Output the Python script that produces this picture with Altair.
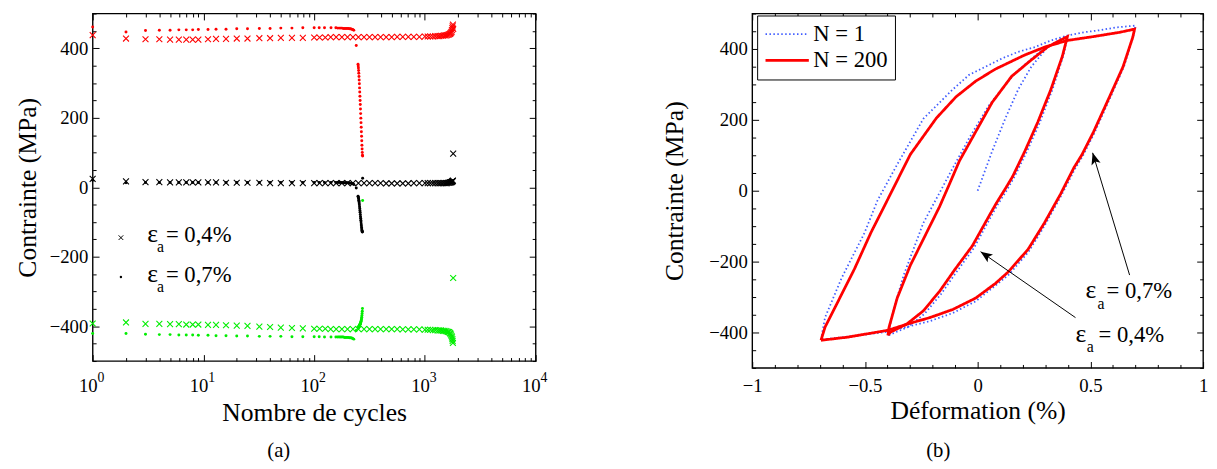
import math
import altair as alt
import pandas as pd

FONT = "Liberation Serif"
GREEN = "#00ee00"
CROSS = "M-1,-1L1,1M-1,1L1,-1"
ARROW = "M0,0L-0.4,1L0,0.78L0.4,1Z"

# ---------------- panel (a) : stress vs number of cycles ----------------
N_04 = [1, 2, 3, 4, 5, 6, 7, 8, 9, 11, 13, 16, 20, 25, 32, 40, 50, 63, 79, 100,
        112, 126, 141, 158, 178, 200, 224, 251, 282, 316, 355, 398, 447, 501, 562, 631, 708, 794, 891, 1000,
        1060, 1120, 1180, 1240, 1300, 1350, 1400, 1450, 1500, 1540, 1580, 1620, 1650, 1680, 1700, 1720,
        1740, 1755, 1770, 1780, 1790, 1800]
MAX_04 = [438, 428, 426, 426, 425, 425, 425, 425, 425, 426, 427, 427, 428, 428, 429, 429, 430, 430, 430, 431,
          431, 431, 432, 432, 432, 432, 432, 432, 432, 432, 432, 432, 432, 432, 433, 433, 433, 433, 433, 434,
          434, 434, 434, 435, 435, 435, 436, 436, 437, 437, 438, 439, 440, 441, 443, 445,
          447, 452, 458, 463, 468, 456]
MEAN_04 = [24, 17, 15, 15, 14, 14, 14, 14, 14, 14, 14, 13, 13, 13, 13, 12, 12, 12, 12, 12,
           12, 12, 12, 12, 12, 12, 12, 12, 12, 12, 12, 12, 11, 11, 11, 11, 11, 12, 12, 12,
           12, 12, 12, 12, 12, 12, 12, 12, 12, 12, 12, 13, 13, 14, 14, 15,
           15, 16, 17, 18, 19, 97]
MIN_04 = [-392, -389, -393, -393, -394, -394, -395, -395, -395, -396, -396, -397, -398, -399, -401, -402, -404, -405, -406, -407,
          -407, -407, -408, -408, -408, -408, -408, -408, -408, -408, -408, -408, -408, -408, -408, -409, -409, -409, -409, -410,
          -410, -410, -411, -411, -412, -412, -412, -413, -413, -414, -415, -416, -417, -419, -421, -424,
          -428, -432, -437, -442, -448, -261]

N_07 = [1, 2, 3, 4, 5, 6, 7, 8, 9, 11, 13, 16, 20, 25, 32, 40, 50, 63, 79, 100, 111, 124, 142, 157,
        163, 168, 173, 178, 183, 188, 193, 198, 203, 208, 213, 218, 223, 228,
        240,
        249, 250, 251, 252, 253, 254, 255, 256, 257, 258, 259, 260, 261, 262, 263, 264, 265, 266,
        267, 268, 269, 270, 271, 272, 273, 274]
MAX_07 = [461, 447, 451, 452, 452, 453, 453, 453, 454, 454, 455, 455, 456, 456, 457, 457, 458, 458, 459, 459, 459, 459, 459, 459,
          458, 458, 458, 458, 457, 457, 457, 457, 457, 456, 456, 455, 454, 452,
          408,
          354, 349, 343, 336, 328, 319, 309, 298, 286, 274, 262, 250, 238, 225, 212, 199, 186, 173,
          160, 147, 134, 121, 110, 100, 92, 90]
MEAN_07 = [20, 13, 14, 14, 14, 14, 14, 14, 14, 14, 14, 14, 14, 14, 14, 14, 14, 14, 14, 14, 14, 14, 14, 14,
           14, 14, 14, 14, 13, 13, 13, 13, 13, 12, 12, 11, 10, 8,
           -2,
           -26, -28, -30, -33, -37, -41, -45, -50, -56, -61, -67, -72, -78, -84, -89, -95, -100, -106,
           -111, -116, -120, -124, -127, -129, -128, 26]
MIN_07 = [-421, -421, -423, -424, -424, -425, -425, -425, -426, -426, -427, -427, -428, -428, -429, -429, -429, -430, -430, -430, -430, -431, -431, -431,
          -431, -431, -431, -431, -431, -432, -432, -432, -432, -433, -433, -434, -435, -437,
          -412,
          -405, -404, -403, -402, -401, -400, -399, -398, -397, -396, -395, -394, -393, -392, -390, -388, -386, -384,
          -381, -378, -374, -369, -363, -357, -349, -38]

XA_MAJOR = [1, 10, 100, 1000, 10000]
XA_TICKS = [1, 2, 3, 4, 5, 6, 7, 8, 9, 10, 20, 30, 40, 50, 60, 70, 80, 90, 100, 200, 300, 400, 500, 600,
            700, 800, 900, 1000, 2000, 3000, 4000, 5000, 6000, 7000, 8000, 9000, 10000]
Y_MAJOR = [-400, -200, 0, 200, 400]
Y_TICKS = [-500, -450, -400, -350, -300, -250, -200, -150, -100, -50, 0, 50, 100, 150, 200, 250, 300, 350, 400, 450, 500]

# legend of panel (a)
LEGA_MARK_N = [1.8]
LEGA_MARK_S1 = [-145]
LEGA_MARK_S2 = [-258]
LEGA_EPS_N = [3.11]
LEGA_SUB_N = [3.81]
LEGA_TXT_N = [4.59]
LEGA_ROW_S = [-158, -272]
LEGA_SUB_S = [-186, -300]
LEGA_TXT = ["= 0,4%", "= 0,7%"]

# ---------------- panel (b) : hysteresis loops ----------------
E07_200 = [-0.695, -0.677, -0.619, -0.546, -0.474, -0.408, -0.299, -0.183, -0.096, -0.009, 0.078, 0.209, 0.296,
           0.398, 0.514, 0.63, 0.696,
           0.688, 0.645, 0.587, 0.514, 0.463, 0.427, 0.369, 0.296, 0.224, 0.136, 0.078, -0.009, -0.11,
           -0.212, -0.3, -0.4, -0.575, -0.695]
S07_200 = [-422, -385, -312, -220, -119, -36, 102, 205, 265, 309, 343, 383, 405,
           424, 435, 447, 456,
           433, 350, 268, 166, 102, 65, -8, -91, -165, -229, -262, -303, -335,
           -358, -374, -394, -413, -422]
E04_200 = [-0.398, -0.393, -0.357, -0.299, -0.227, -0.169, -0.125, -0.081, -0.009, 0.064, 0.151, 0.238, 0.311, 0.398,
           0.376, 0.325, 0.267, 0.209, 0.155, 0.125, 0.082, 0.049, -0.023, -0.103, -0.169, -0.241, -0.314,
           -0.387, -0.398]
S04_200 = [-408, -385, -303, -211, -119, -45, 19, 84, 166, 249, 323, 369, 406, 435,
           380, 286, 194, 111, 40, 8, -36, -73, -155, -224, -284, -339, -376,
           -399, -408]
E07_1 = [-0.695, -0.677, -0.604, -0.502, -0.444, -0.357, -0.241, -0.183, -0.11, -0.038, 0.035, 0.107, 0.18, 0.253,
         0.325, 0.398, 0.47, 0.543, 0.616, 0.70,
         0.692, 0.65, 0.592, 0.52, 0.468, 0.432, 0.374, 0.30, 0.267, 0.226, 0.14, 0.078, -0.009, -0.11,
         -0.212, -0.3, -0.4, -0.55, -0.695]
S07_1 = [-420, -358, -247, -119, -27, 74, 203, 240, 286, 327, 350, 373, 392, 405,
         424, 438, 447, 453, 461, 466,
         440, 352, 268, 166, 100, 62, -10, -95, -130, -172, -236, -268, -312, -345,
         -368, -382, -398, -410, -420]
E04_1 = [0.398, 0.382, 0.332, 0.274, 0.215, 0.162, 0.13, 0.088, 0.055, -0.017, -0.097, -0.163, -0.235, -0.31,
         -0.385, -0.4, -0.392, -0.379, -0.328, -0.241, -0.154, -0.125, -0.038, 0.049, 0.166, 0.282, 0.383, 0.398]
S04_1 = [433, 385, 286, 190, 106, 38, 2, -40, -78, -162, -232, -292, -347, -385,
         -405, -410, -390, -349, -238, -91, 12, 47, 148, 240, 332, 396, 433, 433]
EMONO_1 = [0.0, 0.064, 0.122, 0.18, 0.238, 0.311, 0.398]
SMONO_1 = [0, 111, 203, 286, 350, 406, 433]

XB_MAJOR = [-1, -0.5, 0, 0.5, 1]
XB_TICKS = [-1, -0.9, -0.8, -0.7, -0.6, -0.5, -0.4, -0.3, -0.2, -0.1, 0, 0.1, 0.2, 0.3, 0.4, 0.5, 0.6, 0.7, 0.8, 0.9, 1]
SERIES = ["N = 1", "N = 200"]

ARR_E0 = [0.674, 0.434]
ARR_S0 = [-238, -358]
ARR_E1 = [0.51, 0.013]
ARR_S1 = [107, -172]

ANN_EPS_E = [0.478, 0.434]
ANN_SUB_E = [0.532, 0.484]
ANN_TXT_E = [0.572, 0.536]
ANN_ROW_S = [-304, -427]
ANN_SUB_S = [-334, -455]
ANN_TXT = ["= 0,7%", "= 0,4%"]

# ---------------- sizes ----------------
WA, HA = 450, 353
WB, HB = 458, 360


def tick_axis(orient, offset, values, majors):
    return alt.Axis(orient=orient, offset=offset, values=values, labels=False, domain=False, grid=False,
                    ticks=True, tickColor="black", tickWidth=1, title=None,
                    tickSize={"condition": {"test": f"indexof({majors}, datum.value) >= 0", "value": 6.5},
                              "value": 3.5})


# ---------- panel (a) ----------
xa_scale = alt.Scale(type="log", domain=[1, 10000])
ya_scale = alt.Scale(domain=[-500, 500], nice=False, zero=False)

ax_xa_lab = alt.Axis(orient="bottom", values=XA_MAJOR, labelExpr="'10'", ticks=False, domain=False, grid=False,
                     labelPadding=16, labelOffset=-5, labelFlush=False, labelOverlap=False, labelFontSize=19,
                     labelFont=FONT, titleFont=FONT, labelColor="black", titleColor="black",
                     titleFontWeight="normal",
                     title="Nombre de cycles", titlePadding=4, titleFontSize=26)
ax_xa_exp = alt.Axis(orient="bottom", values=XA_MAJOR, labelExpr="format(log(datum.value)/LN10, '.0f')",
                     ticks=False, domain=False, grid=False, labelPadding=10, labelOffset=8, labelFlush=False,
                     labelOverlap=False, labelFontSize=14, labelFont=FONT, labelColor="black", title=None)
ax_ya_lab = alt.Axis(orient="left", values=Y_MAJOR, ticks=False, domain=False, grid=False, labelPadding=5,
                     labelFontSize=19, labelFont=FONT, titleFont=FONT, labelColor="black", titleColor="black",
                     titleFontWeight="normal",
                     title="Contrainte (MPa)", titlePadding=9, titleFontSize=26)


def pts(xs, ys, color, cross, ax_x, ax_y):
    d = pd.DataFrame({"x": xs, "y": ys})
    if cross:
        m = alt.Chart(d).mark_point(shape=CROSS, size=36, filled=False, strokeWidth=1.1, color=color, opacity=1)
    else:
        m = alt.Chart(d).mark_circle(size=9, color=color, opacity=1)
    return m.encode(x=alt.X("x:Q", scale=xa_scale, axis=ax_x), y=alt.Y("y:Q", scale=ya_scale, axis=ax_y))


def txt_a(xs, ys, texts, size):
    d = pd.DataFrame({"x": xs, "y": ys, "t": texts})
    return alt.Chart(d).mark_text(font=FONT, fontSize=size, align="left", baseline="alphabetic",
                                  color="black").encode(
        x=alt.X("x:Q", scale=xa_scale, axis=None), y=alt.Y("y:Q", scale=ya_scale, axis=None), text="t:N")


left = alt.layer(
    pts(N_04, MAX_04, "red", True, ax_xa_lab, ax_ya_lab),
    pts(N_07, MAX_07, "red", False, tick_axis("top", -HA, XA_TICKS, XA_MAJOR), tick_axis("right", -WA, Y_TICKS, Y_MAJOR)),
    pts(N_04, MEAN_04, "black", True, tick_axis("bottom", -HA, XA_TICKS, XA_MAJOR), tick_axis("left", -WA, Y_TICKS, Y_MAJOR)),
    pts(N_07, MEAN_07, "black", False, ax_xa_exp, None),
    pts(N_04, MIN_04, GREEN, True, None, None),
    pts(N_07, MIN_07, GREEN, False, None, None),
    alt.Chart(pd.DataFrame({"x": LEGA_MARK_N, "y": LEGA_MARK_S1})).mark_point(
        shape=CROSS, size=22, filled=False, strokeWidth=1, color="black", opacity=1).encode(
        x=alt.X("x:Q", scale=xa_scale, axis=None), y=alt.Y("y:Q", scale=ya_scale, axis=None)),
    alt.Chart(pd.DataFrame({"x": LEGA_MARK_N, "y": LEGA_MARK_S2})).mark_circle(
        size=6, color="black", opacity=1).encode(
        x=alt.X("x:Q", scale=xa_scale, axis=None), y=alt.Y("y:Q", scale=ya_scale, axis=None)),
    txt_a(LEGA_EPS_N * 2, LEGA_ROW_S, ["ε", "ε"], 26),
    txt_a(LEGA_SUB_N * 2, LEGA_SUB_S, ["a", "a"], 16),
    txt_a(LEGA_TXT_N * 2, LEGA_ROW_S, LEGA_TXT, 23),
    alt.Chart(pd.DataFrame({"t": ["(a)"]})).mark_text(font=FONT, fontSize=21, align="center",
                                                       baseline="middle", color="black").encode(
        x=alt.value(189), y=alt.value(444), text="t:N"),
).resolve_axis(x="independent", y="independent").properties(width=WA, height=HA)

# ---------- panel (b) ----------
xb_scale = alt.Scale(domain=[-1, 1], nice=False, zero=False)
yb_scale = alt.Scale(domain=[-500, 500], nice=False, zero=False)

ax_xb_lab = alt.Axis(orient="bottom", values=XB_MAJOR, format="~g", ticks=False, domain=False, grid=False,
                     labelPadding=9, labelFlush=False, labelOverlap=False, labelFontSize=19,
                     labelFont=FONT, titleFont=FONT, labelColor="black", titleColor="black",
                     titleFontWeight="normal",
                     title="Déformation (%)", titlePadding=2, titleFontSize=26)
ax_yb_lab = alt.Axis(orient="left", values=Y_MAJOR, ticks=False, domain=False, grid=False, labelPadding=5,
                     labelFontSize=19, labelFont=FONT, titleFont=FONT, labelColor="black", titleColor="black",
                     titleFontWeight="normal",
                     title="Contrainte (MPa)", titlePadding=22, titleFontSize=26)


def curves(series, parts):
    rows = []
    for cid, (es, ss) in enumerate(parts):
        for i, (e, s) in enumerate(zip(es, ss)):
            rows.append({"c": f"{series}-{cid}", "i": i, "x": e, "y": s, "s": series})
    return pd.DataFrame(rows)


leg = alt.Legend(title=None, orient="none", legendX=5, legendY=2, symbolType="M-1,0H3", symbolSize=484,
                 labelOffset=25, labelFontSize=23, labelFont=FONT, labelColor="black", padding=7, rowPadding=2,
                 strokeColor="black", fillColor="white", cornerRadius=0, symbolOpacity=1)


def loop_layer(df, ax_x, ax_y):
    return alt.Chart(df).mark_line(interpolate="linear", opacity=1).encode(
        x=alt.X("x:Q", scale=xb_scale, axis=ax_x),
        y=alt.Y("y:Q", scale=yb_scale, axis=ax_y),
        detail="c:N",
        order="i:Q",
        color=alt.Color("s:N", scale=alt.Scale(domain=SERIES, range=["#3f5cff", "#ff0000"]), legend=leg),
        strokeDash=alt.StrokeDash("s:N", scale=alt.Scale(domain=SERIES, range=[[1.5, 2.5], [1, 0]]), legend=leg),
        strokeWidth=alt.StrokeWidth("s:N", scale=alt.Scale(domain=SERIES, range=[1.8, 2.8]), legend=leg),
    )


blue = curves("N = 1", [(E07_1, S07_1), (E04_1, S04_1), (EMONO_1, SMONO_1)])
red = curves("N = 200", [(E07_200, S07_200), (E04_200, S04_200)])

# arrow head angles (screen direction, degrees clockwise from up)
px_e = WB / 2.0
px_s = HB / 1000.0
ang = []
for e0, s0, e1, s1 in zip(ARR_E0, ARR_S0, ARR_E1, ARR_S1):
    dx = (e1 - e0) * px_e
    dy = -(s1 - s0) * px_s
    ang.append((math.degrees(math.atan2(dx, -dy)) + 360) % 360)

arr_df = pd.DataFrame({"x": ARR_E0, "y": ARR_S0, "x2": ARR_E1, "y2": ARR_S1, "a": ang})


def txt_b(xs, ys, texts, size):
    d = pd.DataFrame({"x": xs, "y": ys, "t": texts})
    return alt.Chart(d).mark_text(font=FONT, fontSize=size, align="left", baseline="alphabetic",
                                  color="black").encode(
        x=alt.X("x:Q", scale=xb_scale, axis=None), y=alt.Y("y:Q", scale=yb_scale, axis=None), text="t:N")


right = alt.layer(
    loop_layer(blue, ax_xb_lab, ax_yb_lab),
    loop_layer(red, tick_axis("top", -HB, XB_TICKS, XB_MAJOR), tick_axis("right", -WB, Y_TICKS, Y_MAJOR)),
    alt.Chart(arr_df).mark_rule(color="black", strokeWidth=1).encode(
        x=alt.X("x:Q", scale=xb_scale, axis=tick_axis("bottom", -HB, XB_TICKS, XB_MAJOR)),
        y=alt.Y("y:Q", scale=yb_scale, axis=tick_axis("left", -WB, Y_TICKS, Y_MAJOR)),
        x2="x2:Q", y2="y2:Q"),
    alt.Chart(arr_df).mark_point(shape=ARROW, size=576, filled=True, color="black", opacity=1,
                                 strokeWidth=0).encode(
        x=alt.X("x2:Q", scale=xb_scale, axis=None), y=alt.Y("y2:Q", scale=yb_scale, axis=None),
        angle=alt.Angle("a:Q", scale=None)),
    txt_b(ANN_EPS_E, ANN_ROW_S, ["ε", "ε"], 26),
    txt_b(ANN_SUB_E, ANN_SUB_S, ["a", "a"], 16),
    txt_b(ANN_TXT_E, ANN_ROW_S, ANN_TXT, 23),
    alt.Chart(pd.DataFrame({"t": ["(b)"]})).mark_text(font=FONT, fontSize=21, align="center",
                                                       baseline="middle", color="black").encode(
        x=alt.value(189), y=alt.value(444), text="t:N"),
).resolve_axis(x="independent", y="independent").properties(width=WB, height=HB)

chart = alt.hconcat(left, right, spacing=114).resolve_scale(
    x="independent", y="independent", color="independent", strokeDash="independent",
    strokeWidth="independent"
).properties(
    padding={"left": 6, "top": 0, "right": 0, "bottom": 0}
).configure(font=FONT).configure_view(stroke="black", strokeWidth=1.4).configure_axis(
    labelFont=FONT, titleFont=FONT, labelColor="black", titleColor="black", titleFontWeight="normal"
).configure_title(font=FONT)

chart.save("out.html", embed_options={"renderer": "svg", "actions": False})
